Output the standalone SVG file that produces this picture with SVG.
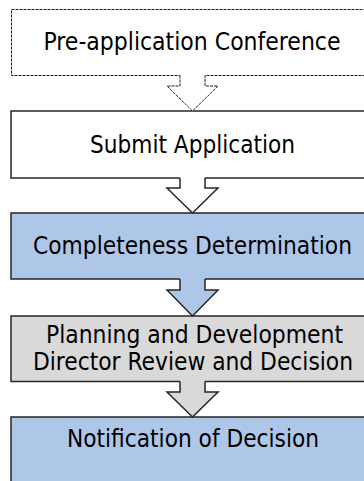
<svg xmlns="http://www.w3.org/2000/svg" width="364" height="481" viewBox="0 0 364 481">
<style>
.box{stroke:#262626;stroke-width:1.5}
.dash{stroke:#222;stroke-width:1;stroke-dasharray:3 1;fill:none}
.line{stroke:#262626;stroke-width:1.5;fill:none}
.white{fill:#fff}
.blue{fill:#aec7e8}
.gray{fill:#d9d9d9}
text{font-family:"DejaVu Sans Condensed","DejaVu Sans",sans-serif;font-size:24px;fill:#000;text-anchor:middle}
</style>
<rect width="364" height="481" fill="#fff"/>
<g id="node-preapp">
<rect x="11.5" y="9.5" width="370" height="66" class="dash" style="fill:#fff"/>
<text x="192" y="49.5" textLength="297" lengthAdjust="spacingAndGlyphs">Pre-application Conference</text>
</g>
<g id="node-submit">
<rect x="11" y="111" width="370" height="67" class="white box"/>
<text x="192.5" y="152.5" textLength="205" lengthAdjust="spacingAndGlyphs">Submit Application</text>
</g>
<g id="node-completeness">
<rect x="11" y="213" width="370" height="66" class="blue box"/>
<text x="192.5" y="254" textLength="319" lengthAdjust="spacingAndGlyphs">Completeness Determination</text>
</g>
<g id="node-review">
<rect x="11" y="316" width="370" height="65.5" class="gray box"/>
<text x="194.5" y="343" textLength="297" lengthAdjust="spacingAndGlyphs">Planning and Development</text>
<text x="193" y="370" textLength="320" lengthAdjust="spacingAndGlyphs">Director Review and Decision</text>
</g>
<g id="node-notification">
<rect x="11" y="417" width="370" height="80" class="blue box"/>
<text x="193" y="447" textLength="252" lengthAdjust="spacingAndGlyphs">Notification of Decision</text>
</g>
<g id="connectors">
<polygon points="180,73 180,86 167,86 192.5,111 218,86 205,86 205,73" class="white"/>
<path d="M180,75.5 V86 H167 L192.5,111 L218,86 H205 V75.5" class="dash"/>
<polygon points="180,176 180,188 167,188 192.5,213 218,188 205,188 205,176" class="white"/>
<path d="M180,178 V188 H167 L192.5,213 L218,188 H205 V178" class="line"/>
<polygon points="180,277 180,290 167,290 192.5,316 218,290 205,290 205,277" class="blue"/>
<path d="M180,279 V290 H167 L192.5,316 L218,290 H205 V279" class="line"/>
<polygon points="180,379.5 180,392 167,392 192.5,417 218,392 205,392 205,379.5" class="gray"/>
<path d="M180,381.5 V392 H167 L192.5,417 L218,392 H205 V381.5" class="line"/>
</g>
</svg>
